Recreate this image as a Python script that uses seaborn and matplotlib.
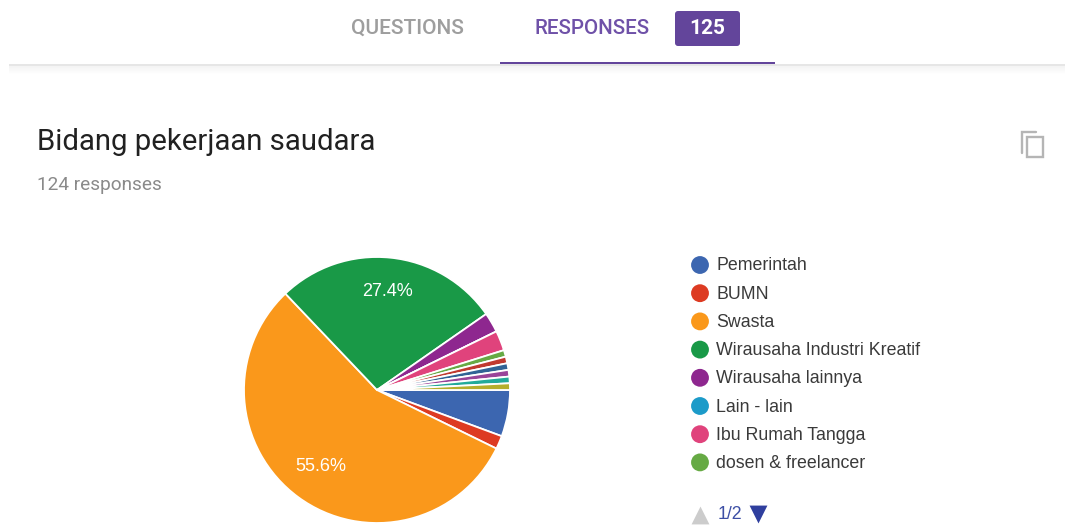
import pandas as pd
import seaborn as sns
import matplotlib.pyplot as plt
from matplotlib.patches import FancyBboxPatch, Rectangle

# slices, clockwise from 3 o'clock. names of the last ones are on the hidden legend page
counts = [7, 2, 69, 34, 3, 0, 3, 1, 1, 1, 1, 1, 1]
colors = ['#3c66b0', '#dd3b22', '#fa981b', '#199947', '#8e278f', '#1c9bc9',
          '#e0437c', '#66aa44', '#c0392f', '#316395', '#994499', '#22aa99', '#b5ae2c']
legend_labels = ['Pemerintah', 'BUMN', 'Swasta', 'Wirausaha Industri Kreatif',
                 'Wirausaha lainnya', 'Lain - lain', 'Ibu Rumah Tangga', 'dosen & freelancer']

title = 'Bidang pekerjaan saudara'
subtitle = '124 responses'
tab_left = 'QUESTIONS'
tab_right = 'RESPONSES'
badge = '125'
pager = '1/2'

PURPLE = '#63459b'

sns.set_theme(style='white')
plt.rcParams['font.family'] = ['Liberation Sans', 'DejaVu Sans']

fig = plt.figure(figsize=(10.65, 5.26), dpi=100)
ax = fig.add_axes([0, 0, 1, 1])

# pie, y axis is flipped below so counterclock=True comes out clockwise
wedges, texts, autotexts = ax.pie(
    counts, colors=colors, startangle=0, counterclock=True,
    center=(377, 390), radius=133,
    wedgeprops={'edgecolor': 'white', 'linewidth': 1.3},
    autopct=lambda p: f'{p:.1f}%' if p > 10 else '',
    pctdistance=0.73,
    textprops={'color': 'white', 'fontsize': 13},
)
# nudge the percent labels onto the reference spots
for t in autotexts:
    x, y = t.get_position()
    t.set_position((x + 1, y - 2))

# legend dots
legend_df = pd.DataFrame({
    'x': [700] * len(legend_labels),
    'y': [265 + 28.2 * i for i in range(len(legend_labels))],
    'label': legend_labels,
})
sns.scatterplot(data=legend_df, x='x', y='y', hue='label', hue_order=legend_labels,
                palette=colors[:len(legend_labels)], s=165, linewidth=0, legend=False, ax=ax)
for _, row in legend_df.iterrows():
    ax.text(716, row['y'] + 1, row['label'], fontsize=12.75, color='#3a3a3a', va='center')

# pager
ax.scatter([700], [515], marker='^', s=165, color='#cccccc', linewidth=0)
ax.scatter([758], [514], marker='v', s=165, color='#2f3f9e', linewidth=0)
ax.text(718, 514.5, pager, fontsize=12.75, color='#3d4fa5', va='center')

# header tabs
ax.add_patch(Rectangle((9, 64), 1056, 1.5, color='#e6e6e6', lw=0))
for i in range(8):
    ax.add_patch(Rectangle((9, 65.5 + i), 1056, 1, color='#000000', alpha=0.022 * (8 - i) / 4, lw=0))
ax.add_patch(Rectangle((500, 62), 275, 2.2, color=PURPLE, lw=0))
ax.text(407, 28, tab_left, family='Roboto', fontsize=15, weight='medium', color='#9e9e9e',
        ha='center', va='center')
ax.text(592.5, 28, tab_right, family='Roboto', fontsize=14.9, weight='medium', color='#6f51a8',
        ha='center', va='center')
ax.add_patch(FancyBboxPatch((677, 13), 61, 31, boxstyle='round,pad=2,rounding_size=3',
                            fc=PURPLE, ec='none'))
ax.text(707, 28, badge, family='Roboto', fontsize=15, weight='bold', color='white',
        ha='center', va='center')

# question title
ax.text(37, 142.5, title, family='Roboto', fontsize=21.2, color='#212121', va='center')
ax.text(37, 185, subtitle, family='Roboto', fontsize=13.7, color='#8a8a8a', va='center')

# copy icon
ax.plot([1022, 1022, 1036], [153, 132, 132], color='#b5b5b5', lw=1.7, solid_joinstyle='miter')
ax.add_patch(Rectangle((1027, 137), 16, 20, fc='none', ec='#b5b5b5', lw=1.7))

ax.set_xlim(0, 1065)
ax.set_ylim(526, 0)
ax.set_aspect('auto')
ax.axis('off')

fig.savefig('out.png', dpi=100, facecolor='white')
plt.close(fig)
